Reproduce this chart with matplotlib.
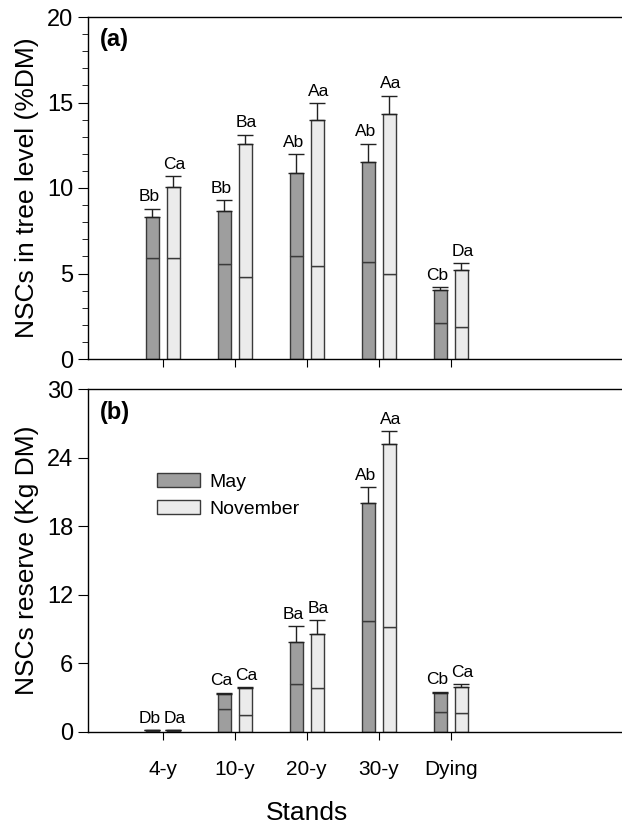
import numpy as np
import matplotlib.pyplot as plt
from matplotlib.ticker import MultipleLocator

plt.rcParams['font.family'] = ['Liberation Sans', 'DejaVu Sans']

stands = ["4-y", "10-y", "20-y", "30-y", "Dying"]

# (a) NSCs in tree level (%DM): total, lower segment, error bar top
a_may = [8.3, 8.65, 10.9, 11.5, 4.05]
a_may_low = [5.9, 5.55, 6.0, 5.65, 2.12]
a_may_err = [0.5, 0.65, 1.1, 1.1, 0.15]
a_nov = [10.05, 12.57, 13.95, 14.35, 5.2]
a_nov_low = [5.9, 4.8, 5.45, 4.95, 1.9]
a_nov_err = [0.65, 0.55, 1.0, 1.05, 0.4]
a_may_lab = ["Bb", "Bb", "Ab", "Ab", "Cb"]
a_nov_lab = ["Ca", "Ba", "Aa", "Aa", "Da"]

# (b) NSCs reserve (Kg DM)
b_may = [0.15, 3.3, 7.83, 20.0, 3.45]
b_may_low = [0.08, 2.0, 4.2, 9.72, 1.72]
b_may_err = [0.0, 0.15, 1.4, 1.4, 0.05]
b_nov = [0.15, 3.83, 8.6, 25.2, 3.94]
b_nov_low = [0.08, 1.52, 3.83, 9.2, 1.63]
b_nov_err = [0.0, 0.07, 1.18, 1.1, 0.24]
b_may_lab = ["Db", "Ca", "Ba", "Ab", "Cb"]
b_nov_lab = ["Da", "Ca", "Ba", "Aa", "Ca"]

may_c = "#9e9e9e"
nov_c = "#ebebeb"
edge = "#3a3a3a"

fig = plt.figure(figsize=(6.22, 8.25), dpi=100)
ax1 = fig.add_axes([88/622, 1 - 359/825, 534/622, 342/825])
ax2 = fig.add_axes([88/622, 1 - 732/825, 534/622, 343/825])

x = np.arange(len(stands))
w = 0.18
off = 0.145


def draw(ax, may, may_low, may_err, nov, nov_low, nov_err, may_lab, nov_lab, top, lab_pad):
    for vals, low, err, labs, c, s, name, lx in [
        (may, may_low, may_err, may_lab, may_c, -1, "May", -0.04),
        (nov, nov_low, nov_err, nov_lab, nov_c, 1, "November", 0.02),
    ]:
        xs = x + s * off
        ax.bar(xs, low, w, color=c, edgecolor=edge, linewidth=1.0, label=name)
        ax.bar(xs, np.array(vals) - np.array(low), w, bottom=low, color=c,
               edgecolor=edge, linewidth=1.0)
        ax.errorbar(xs, vals, yerr=[np.zeros(len(vals)), err], fmt="none",
                    ecolor="#222222", elinewidth=1.0, capsize=6, capthick=1.0)
        for xi, v, e, t in zip(xs, vals, err, labs):
            ax.text(xi + lx, v + e + lab_pad, t, ha="center", va="bottom", fontsize=12.5)
    ax.set_xlim(-1.04, 6.38)
    ax.set_ylim(0, top)
    ax.set_xticks(x)
    ax.spines["right"].set_visible(False)
    for sp in ax.spines.values():
        sp.set_linewidth(1.0)
    ax.tick_params(axis="y", labelsize=17, length=7, direction="out")
    ax.tick_params(axis="x", length=6, direction="out")


draw(ax1, a_may, a_may_low, a_may_err, a_nov, a_nov_low, a_nov_err,
     a_may_lab, a_nov_lab, 20, 0.25)
ax1.yaxis.set_major_locator(MultipleLocator(5))
ax1.yaxis.set_minor_locator(MultipleLocator(1))
ax1.tick_params(axis="y", which="minor", length=4)
ax1.set_xticklabels([])
ax1.set_ylabel("NSCs in tree level (%DM)", fontsize=19, labelpad=6)
ax1.text(-0.88, 18.3, "(a)", fontsize=17, fontweight="bold")

draw(ax2, b_may, b_may_low, b_may_err, b_nov, b_nov_low, b_nov_err,
     b_may_lab, b_nov_lab, 30, 0.4)
ax2.yaxis.set_major_locator(MultipleLocator(6))
ax2.set_xticklabels(stands, fontsize=15)
ax2.tick_params(axis="x", pad=14)
ax2.set_ylabel("NSCs reserve (Kg DM)", fontsize=19, labelpad=6)
ax2.set_xlabel("Stands", fontsize=19)
ax2.xaxis.set_label_coords((2 + 1.04) / 7.42, -0.2)
ax2.text(-0.88, 27.4, "(b)", fontsize=17, fontweight="bold")
ax2.legend(loc="upper left", bbox_to_anchor=(0.096, 0.806), frameon=False,
           fontsize=14, handlelength=2.2, handleheight=0.75, labelspacing=0.45,
           handletextpad=0.5)

fig.savefig("out.png", dpi=100)
